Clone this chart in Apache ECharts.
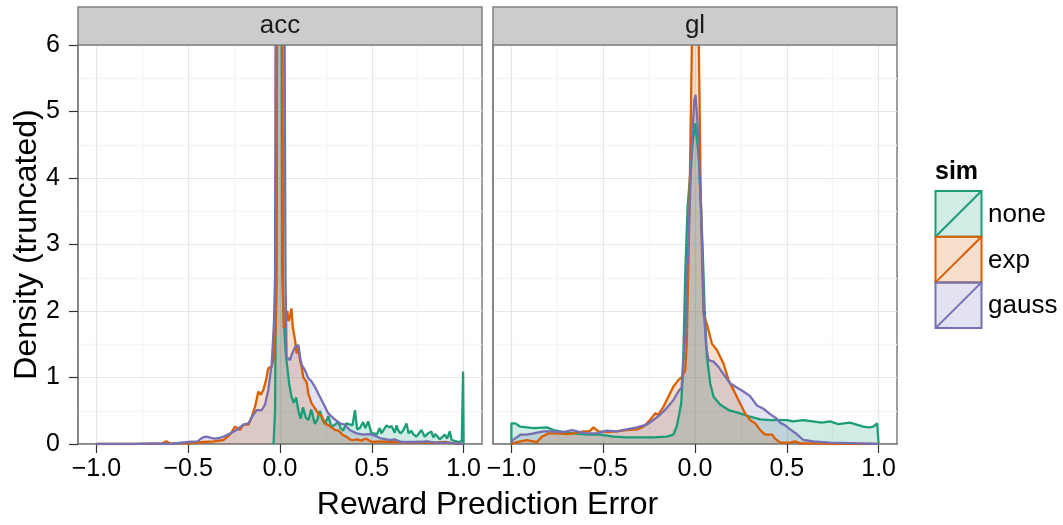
<!DOCTYPE html>
<html>
<head>
<meta charset="utf-8">
<script src="https://cdn.jsdelivr.net/npm/echarts@6/dist/echarts.min.js"></script>
<style>
html,body{margin:0;padding:0;background:#fff;}
#chart{width:1063px;height:525px;}
</style>
</head>
<body>
<div id="chart"></div>
<script>
// ---- data ----
const panels = ['acc', 'gl'];
const sims = ['none', 'exp', 'gauss'];
const simColors = ['#1B9E77', '#D95F02', '#7570B3'];
const xTicks = [-1, -0.5, 0, 0.5, 1];
const xMinorTicks = [-0.75, -0.25, 0.25, 0.75];
const yTicks = [0, 1, 2, 3, 4, 5, 6];
const xTitle = 'Reward Prediction Error';
const yTitle = 'Density (truncated)';
const legendTitle = 'sim';

// acc panel densities [x, density]
const accNone = [[-0.035,0],[-0.027,0.5],[-0.02,3],[-0.014,8],[-0.004,16],[0.004,16],[0.009,6.5],[0.012,2.6],[0.02,1.9],[0.03,1.4],[0.04,1.15],[0.05,0.9],[0.062,0.72],[0.075,0.62],[0.088,0.7],[0.1,0.5],[0.112,0.38],[0.125,0.55],[0.14,0.4],[0.155,0.36],[0.17,0.52],[0.19,0.3],[0.205,0.38],[0.217,0.5],[0.232,0.36],[0.245,0.3],[0.263,0.42],[0.28,0.26],[0.29,0.24],[0.305,0.3],[0.317,0.34],[0.33,0.24],[0.344,0.2],[0.36,0.31],[0.375,0.3],[0.395,0.28],[0.408,0.51],[0.42,0.22],[0.435,0.24],[0.453,0.33],[0.465,0.24],[0.48,0.34],[0.498,0.16],[0.515,0.16],[0.526,0.14],[0.543,0.24],[0.552,0.16],[0.561,0.18],[0.58,0.28],[0.595,0.25],[0.607,0.27],[0.625,0.17],[0.634,0.28],[0.645,0.2],[0.656,0.16],[0.67,0.2],[0.689,0.31],[0.7,0.16],[0.715,0.2],[0.725,0.15],[0.743,0.11],[0.752,0.14],[0.77,0.21],[0.788,0.11],[0.806,0.16],[0.824,0.19],[0.835,0.1],[0.846,0.15],[0.87,0.07],[0.897,0.14],[0.91,0.08],[0.924,0.19],[0.935,0.06],[0.942,0.03],[0.96,0.04],[0.978,0.03],[0.99,0.05],[0.997,1.09],[1.0,0]];
const accExp = [[-1,0],[-0.8,0],[-0.7,0.005],[-0.64,0.01],[-0.62,0.04],[-0.6,0.01],[-0.5,0.01],[-0.45,0.02],[-0.417,0.03],[-0.36,0.04],[-0.308,0.06],[-0.272,0.14],[-0.245,0.26],[-0.217,0.21],[-0.2,0.29],[-0.172,0.29],[-0.154,0.41],[-0.136,0.56],[-0.118,0.79],[-0.105,0.74],[-0.091,0.81],[-0.076,0.96],[-0.064,1.14],[-0.045,1.16],[-0.033,1.31],[-0.022,1.82],[-0.018,2.6],[-0.016,7],[0,20],[0.013,7],[0.016,2.6],[0.02,1.75],[0.03,1.8],[0.04,2.0],[0.046,1.85],[0.054,1.9],[0.062,2.04],[0.07,1.75],[0.082,1.56],[0.091,1.36],[0.1,1.45],[0.109,1.25],[0.118,1.16],[0.127,1.0],[0.136,0.99],[0.145,0.93],[0.155,0.75],[0.172,0.61],[0.19,0.54],[0.21,0.45],[0.227,0.42],[0.245,0.31],[0.265,0.28],[0.28,0.25],[0.3,0.21],[0.32,0.2],[0.34,0.14],[0.362,0.11],[0.38,0.07],[0.398,0.06],[0.42,0.07],[0.44,0.05],[0.47,0.08],[0.5,0.03],[0.55,0.04],[0.6,0.03],[0.65,0.03],[0.7,0.02],[0.75,0.03],[0.8,0.02],[0.85,0.02],[0.9,0.03],[0.95,0.01],[1.0,0]];
const accGauss = [[-1,0],[-0.8,0],[-0.7,0.01],[-0.6,0],[-0.5,0.03],[-0.45,0.04],[-0.42,0.1],[-0.4,0.11],[-0.37,0.09],[-0.35,0.08],[-0.32,0.1],[-0.3,0.12],[-0.27,0.16],[-0.237,0.21],[-0.2,0.29],[-0.172,0.31],[-0.145,0.44],[-0.127,0.51],[-0.1,0.51],[-0.082,0.59],[-0.064,0.81],[-0.045,1.21],[-0.033,1.82],[-0.027,2.5],[-0.024,6.5],[-0.01,18],[0.01,18],[0.024,7],[0.03,2.5],[0.036,1.31],[0.054,1.26],[0.065,1.35],[0.082,1.46],[0.1,1.49],[0.11,1.3],[0.118,1.19],[0.136,1.11],[0.154,0.99],[0.172,0.94],[0.19,0.86],[0.208,0.76],[0.236,0.61],[0.263,0.46],[0.29,0.39],[0.326,0.31],[0.353,0.29],[0.38,0.21],[0.417,0.16],[0.453,0.14],[0.48,0.15],[0.5,0.14],[0.52,0.12],[0.543,0.09],[0.58,0.07],[0.6,0.06],[0.625,0.07],[0.66,0.03],[0.7,0.03],[0.75,0.03],[0.8,0.04],[0.85,0.02],[0.9,0.02],[0.95,0.01],[1.0,0]];

// gl panel densities [x, density]
const glNone = [[-1,0],[-1,0.31],[-0.978,0.31],[-0.951,0.26],[-0.879,0.24],[-0.807,0.25],[-0.77,0.21],[-0.734,0.19],[-0.661,0.16],[-0.589,0.14],[-0.516,0.14],[-0.444,0.11],[-0.372,0.1],[-0.299,0.1],[-0.227,0.1],[-0.154,0.11],[-0.118,0.14],[-0.1,0.26],[-0.085,0.46],[-0.075,0.62],[-0.068,0.95],[-0.062,1.5],[-0.053,2.57],[-0.04,3.57],[-0.026,4.07],[-0.011,4.57],[0.002,4.82],[0.02,4.32],[0.033,3.57],[0.043,2.82],[0.052,2.06],[0.065,1.31],[0.083,0.91],[0.101,0.71],[0.138,0.59],[0.183,0.51],[0.246,0.46],[0.3,0.41],[0.355,0.37],[0.41,0.36],[0.464,0.36],[0.5,0.36],[0.536,0.34],[0.59,0.36],[0.64,0.34],[0.69,0.32],[0.735,0.34],[0.78,0.3],[0.844,0.32],[0.88,0.29],[0.916,0.26],[0.95,0.25],[0.971,0.26],[0.992,0.31],[1.0,0.29],[1.0,0]];
const glExp = [[-1,0],[-0.97,0.03],[-0.915,0.06],[-0.861,0.03],[-0.834,0.11],[-0.797,0.16],[-0.752,0.16],[-0.7,0.15],[-0.661,0.16],[-0.607,0.19],[-0.575,0.19],[-0.553,0.25],[-0.526,0.19],[-0.48,0.18],[-0.426,0.19],[-0.372,0.21],[-0.317,0.22],[-0.281,0.26],[-0.245,0.36],[-0.217,0.46],[-0.2,0.44],[-0.172,0.56],[-0.145,0.71],[-0.118,0.86],[-0.091,0.96],[-0.071,1.01],[-0.053,1.11],[-0.045,1.5],[-0.035,2.8],[-0.025,4.5],[-0.016,6.2],[0,9],[0.02,6.2],[0.03,4],[0.04,2.6],[0.047,1.95],[0.065,1.8],[0.092,1.51],[0.12,1.41],[0.155,1.21],[0.183,0.96],[0.21,0.81],[0.246,0.61],[0.273,0.46],[0.3,0.36],[0.328,0.31],[0.355,0.21],[0.382,0.14],[0.42,0.14],[0.436,0.08],[0.464,0.02],[0.518,0.02],[0.545,0.04],[0.57,0.01],[0.68,0.01],[0.75,0],[1.0,0]];
const glGauss = [[-1,0.03],[-0.987,0.07],[-0.951,0.14],[-0.917,0.14],[-0.879,0.16],[-0.824,0.19],[-0.77,0.19],[-0.716,0.18],[-0.671,0.21],[-0.625,0.18],[-0.589,0.16],[-0.535,0.16],[-0.48,0.2],[-0.426,0.19],[-0.372,0.22],[-0.317,0.25],[-0.263,0.29],[-0.227,0.36],[-0.19,0.44],[-0.154,0.54],[-0.118,0.66],[-0.091,0.79],[-0.073,0.85],[-0.062,1.31],[-0.053,1.6],[-0.043,2.57],[-0.029,3.57],[-0.016,4.57],[-0.004,5.17],[0.003,5.25],[0.014,4.82],[0.025,4.07],[0.038,3.07],[0.047,2.06],[0.061,1.46],[0.074,1.26],[0.101,1.24],[0.128,1.16],[0.155,1.05],[0.192,0.91],[0.228,0.85],[0.264,0.79],[0.3,0.72],[0.337,0.58],[0.373,0.53],[0.409,0.45],[0.446,0.38],[0.464,0.32],[0.491,0.28],[0.518,0.22],[0.554,0.15],[0.59,0.06],[0.645,0.04],[0.735,0.02],[0.9,0.01],[1.0,0]];

const panelData = [[accNone, accExp, accGauss], [glNone, glExp, glGauss]];

// ---- layout / style ----
const FONT = "'Liberation Sans', Arial, Helvetica, sans-serif";
const grids = [
  {left: 78, top: 45, width: 404, height: 399},
  {left: 493, top: 45, width: 404, height: 399}
];
const fmt = v => (Math.abs(v) < 1e-9 ? 0 : v).toFixed(1).replace('-', '\u2212');

const xAxes = [], yAxes = [], series = [];
grids.forEach((g, gi) => {
  xAxes.push({
    type: 'value', gridIndex: gi, min: -1.1, max: 1.1, position: 'bottom',
    axisLine: {show: true, onZero: false, lineStyle: {color: '#7f7f7f', width: 1.5}},
    axisTick: {show: true, customValues: xTicks, length: 9, inside: false, lineStyle: {color: '#333', width: 1.2}},
    axisLabel: {show: true, customValues: xTicks, formatter: fmt, margin: 13, color: '#000', fontSize: 25, fontFamily: FONT},
    splitLine: {show: true, lineStyle: {color: '#e6e6e6', width: 1.2}},
    minorSplitLine: {show: false}
  });
  xAxes.push({
    type: 'value', gridIndex: gi, min: -1.1, max: 1.1, position: 'top',
    axisLine: {show: false, onZero: false},
    axisTick: {show: false, customValues: xMinorTicks},
    axisLabel: {show: false, customValues: xMinorTicks},
    splitLine: {show: true, lineStyle: {color: '#f4f4f4', width: 1.4}}
  });
  yAxes.push({
    type: 'value', gridIndex: gi, min: 0, max: 6, interval: 1, position: 'left',
    axisLine: {show: true, onZero: false, lineStyle: {color: '#7f7f7f', width: 1.5}},
    axisTick: {show: gi === 0, length: 9, lineStyle: {color: '#333', width: 1.2}},
    axisLabel: {show: gi === 0, margin: 18, color: '#000', fontSize: 25, fontFamily: FONT},
    splitLine: {show: true, lineStyle: {color: '#e6e6e6', width: 1.2}},
    minorTick: {show: false, splitNumber: 2},
    minorSplitLine: {show: true, lineStyle: {color: '#f4f4f4', width: 1.4}}
  });
  panelData[gi].forEach((d, si) => {
    series.push({
      type: 'line', name: sims[si], xAxisIndex: gi * 2, yAxisIndex: gi,
      data: d, showSymbol: false, symbol: 'none', clip: true, silent: true,
      lineStyle: {color: simColors[si], width: 2.3},
      itemStyle: {color: simColors[si]},
      areaStyle: {color: simColors[si], opacity: 0.2}
    });
  });
});

const graphics = [];
grids.forEach((g, gi) => {
  graphics.push({type: 'rect', shape: {x: g.left, y: 7, width: g.width, height: 38},
    style: {fill: '#cccccc', stroke: '#7f7f7f', lineWidth: 1.5}, z: 10});
  graphics.push({type: 'text', x: g.left + g.width / 2, y: 26,
    style: {text: panels[gi], fill: '#1a1a1a', font: '26px ' + FONT, textAlign: 'center', textVerticalAlign: 'middle'}, z: 11});
});
graphics.push({type: 'text', x: 487.5, y: 505,
  style: {text: xTitle, fill: '#000', font: '32px ' + FONT, textAlign: 'center', textVerticalAlign: 'middle'}});
graphics.push({type: 'text', x: 27, y: 244.5, rotation: Math.PI / 2,
  style: {text: yTitle, fill: '#000', font: '32px ' + FONT, textAlign: 'center', textVerticalAlign: 'middle'}});
graphics.push({type: 'text', x: 935, y: 172,
  style: {text: legendTitle, fill: '#000', font: 'bold 25px ' + FONT, textAlign: 'left', textVerticalAlign: 'middle'}});
sims.forEach((s, i) => {
  const y0 = 191 + i * 45.7, h = 45.7;
  graphics.push({type: 'rect', shape: {x: 935.5, y: y0, width: 46, height: h},
    style: {fill: simColors[i], opacity: 0.2}});
  graphics.push({type: 'rect', shape: {x: 935.5, y: y0, width: 46, height: h},
    style: {fill: 'none', stroke: simColors[i], lineWidth: 2}});
  graphics.push({type: 'line', shape: {x1: 935.5, y1: y0 + h, x2: 981.5, y2: y0},
    style: {stroke: simColors[i], lineWidth: 2}});
  graphics.push({type: 'text', x: 988, y: y0 + h / 2 + 1,
    style: {text: s, fill: '#000', font: '26px ' + FONT, textAlign: 'left', textVerticalAlign: 'middle'}});
});

const chart = echarts.init(document.getElementById('chart'), null, {renderer: 'canvas'});
chart.setOption({
  animation: false,
  backgroundColor: '#ffffff',
  grid: grids.map(g => Object.assign({show: true, borderColor: '#7f7f7f', borderWidth: 1.5, backgroundColor: '#fff', containLabel: false}, g)),
  xAxis: xAxes,
  yAxis: yAxes,
  series: series,
  graphic: graphics
});
</script>
</body>
</html>
